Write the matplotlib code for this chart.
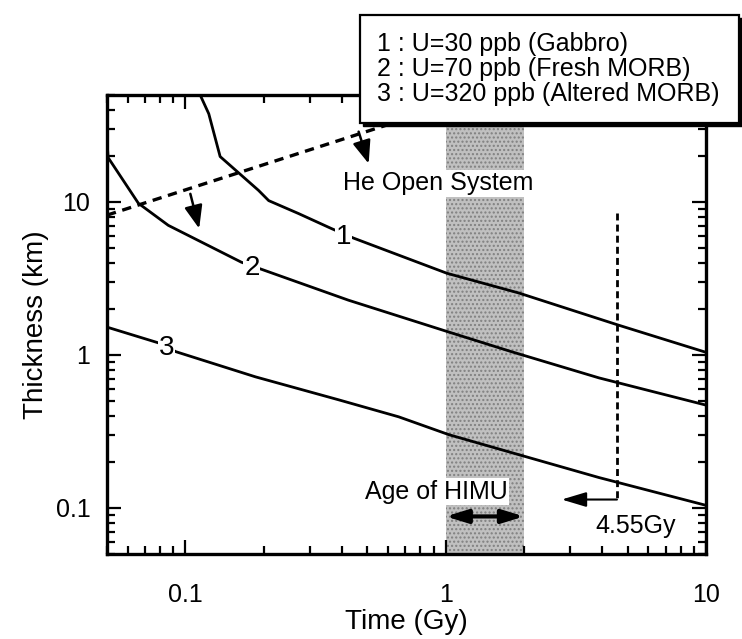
import matplotlib
matplotlib.use("Agg")
import matplotlib.pyplot as plt
from matplotlib.patches import Rectangle

plt.rcParams['font.family'] = ['Liberation Sans', 'DejaVu Sans']

# Data
t1 = [0.114, 0.123, 0.136, 0.191, 0.209, 0.272, 0.364, 0.443, 1.01, 1.91, 4.59, 10]
h1 = [50, 37.7, 19.8, 11.9, 10.2, 8.4, 6.7, 5.8, 3.42, 2.54, 1.57, 1.04]

t2 = [0.05, 0.0505, 0.066, 0.086, 0.164, 0.196, 0.423, 1.03, 1.79, 3.88, 10]
h2 = [25, 19.5, 9.8, 7.03, 4.04, 3.63, 2.28, 1.41, 1.05, 0.708, 0.47]

t3 = [0.05, 0.0787, 0.092, 0.186, 0.388, 0.66, 1.03, 1.79, 3.88, 10]
h3 = [1.52, 1.20, 1.05, 0.719, 0.509, 0.394, 0.301, 0.230, 0.158, 0.104]

# He open system boundary (dashed)
t_he = [0.05, 0.6]
h_he = [8.2, 32]

himu_age = [1, 2]          # Gy, shaded band
earth_age = 4.55           # Gy
earth_line = [8.5, 0.115]  # vertical extent of the 4.55 Gy marker

curve_labels = ['1', '2', '3']
label_pos = [(0.405, 5.87), (0.18, 3.69), (0.0845, 1.11)]

legend_lines = ["1 : U=30 ppb (Gabbro)",
                "2 : U=70 ppb (Fresh MORB)",
                "3 : U=320 ppb (Altered MORB)"]

fig = plt.figure(figsize=(7.42, 6.39), dpi=100)
ax = fig.add_axes([107/742, 1-554/639, (706-107)/742, (554-95)/639])
ax.set_xscale('log')
ax.set_yscale('log')
ax.set_xlim(0.05, 10)
ax.set_ylim(0.05, 50)

# shaded HIMU age band
ax.axvspan(himu_age[0], himu_age[1], facecolor='#c0c0c0', hatch='....',
           edgecolor='#808080', lw=0, zorder=0)

for t, h in [(t1, h1), (t2, h2), (t3, h3)]:
    ax.plot(t, h, color='black', lw=2.0, zorder=2)

ax.plot(t_he, h_he, color='black', lw=2.4, ls=(0, (2.8, 2.0)), zorder=2)

# arrows off the He line
for start, tip in [((0.1045, 11.3), (0.113, 6.7)), ((0.463, 28.8), (0.506, 17.8))]:
    ax.annotate('', xy=tip, xytext=start,
                arrowprops=dict(arrowstyle='-|>,head_length=1.4,head_width=0.55',
                                color='black', lw=1.8, shrinkA=0, shrinkB=0), zorder=3)

# 4.55 Gy marker
ax.plot([earth_age, earth_age], earth_line, color='black', lw=2, ls=(0, (2.5, 1.5)), zorder=2)
ax.annotate('', xy=(2.79, 0.1135), xytext=(earth_age, 0.1135),
            arrowprops=dict(arrowstyle='-|>,head_length=1.5,head_width=0.45',
                            color='black', lw=1.5, shrinkA=0, shrinkB=0), zorder=3)
ax.text(5.38, 0.076, '4.55Gy', ha='center', va='center', fontsize=18, zorder=4)

# HIMU age arrow
ax.annotate('', xy=(himu_age[1], 0.088), xytext=(himu_age[0], 0.088),
            arrowprops=dict(arrowstyle='<|-|>,head_length=1.3,head_width=0.4',
                            color='black', lw=3, shrinkA=0, shrinkB=0), zorder=3)
ax.text(0.923, 0.128, 'Age of HIMU', ha='center', va='center', fontsize=18, zorder=4,
        bbox=dict(facecolor='white', edgecolor='none', pad=1))

ax.text(0.94, 13.2, 'He Open System', ha='center', va='center', fontsize=18, zorder=4,
        bbox=dict(facecolor='white', edgecolor='none', pad=1))

for lab, (x, y) in zip(curve_labels, label_pos):
    ax.text(x, y, lab, ha='center', va='center', fontsize=20, zorder=4,
            bbox=dict(facecolor='white', edgecolor='none', pad=0.5))

# axes styling
ax.set_xticks([0.1, 1, 10])
ax.set_xticklabels(['0.1', '1', '10'])
ax.set_yticks([0.1, 1, 10])
ax.set_yticklabels(['0.1', '1', '10'])
ax.xaxis.set_minor_formatter(plt.NullFormatter())
ax.yaxis.set_minor_formatter(plt.NullFormatter())
ax.tick_params(which='both', direction='in', top=True, right=True, width=1.6, labelsize=18)
ax.tick_params(which='major', length=10)
ax.tick_params(which='minor', length=6)
ax.tick_params(axis='x', which='major', pad=21)
ax.tick_params(axis='y', which='major', pad=12)
for s in ax.spines.values():
    s.set_linewidth(2.4)

ax.set_xlabel('Time (Gy)', fontsize=20, labelpad=1)
ax.set_ylabel('Thickness (km)', fontsize=20, labelpad=5)

# legend box with shadow, drawn over the top of the axes
bx0, by0, bw, bh = 360/742, 1-123/639, (739-360)/742, (123-15)/639
shadow = Rectangle((bx0 + 3/742, by0 - 3/639), bw, bh, transform=fig.transFigure,
                   facecolor='black', edgecolor='black', zorder=5)
box = Rectangle((bx0, by0), bw, bh, transform=fig.transFigure,
                facecolor='white', edgecolor='black', lw=1.6, zorder=6)
fig.add_artist(shadow)
fig.add_artist(box)
fig.text(377/742, 1-69/639, "\n".join(legend_lines), ha='left', va='center',
         fontsize=18, linespacing=1.05, zorder=7)

fig.savefig('out.png', dpi=100)
